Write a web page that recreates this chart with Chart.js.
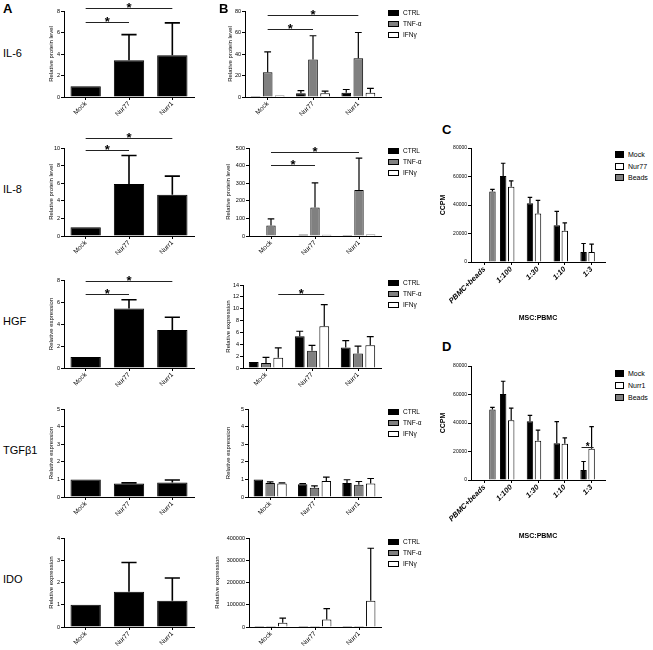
<!DOCTYPE html>
<html>
<head>
<meta charset="utf-8">
<script src="https://cdn.jsdelivr.net/npm/chart.js@4.4.1/dist/chart.umd.min.js"></script>
<style>
  body { margin: 0; background: #fff; width: 653px; height: 650px; position: relative; overflow: hidden;
         font-family: 'Liberation Sans', Arial, sans-serif; color: #000; }
  canvas { position: absolute; }
  .lbl { position: absolute; white-space: nowrap; color: #000 !important; line-height: 1; }
  .sw { position: absolute; box-sizing: border-box; border: 1px solid #000; }
</style>
</head>
<body>
<script>
'use strict';

/* Nur77 / Nurr1 figure: panels A and B (cytokines), C and D (MSC:PBMC proliferation). */

// ---- data ----
const groups = ['Mock', 'Nur77', 'Nurr1'];
const treatments = ['CTRL', 'TNF-α', 'IFNγ'];
const ratios = ['PBMC+beads', '1:100', '1:30', '1:10', '1:3'];
const rows = ['IL-6', 'IL-8', 'HGF', 'TGFβ1', 'IDO'];

// panel A: mean and upper SD
const il6A = [1, 3.42, 3.88];
const il6AErr = [null, 5.8, 6.9];
const il8A = [1, 5.9, 4.68];
const il8AErr = [null, 9.15, 6.8];
const hgfA = [1, 5.42, 3.45];
const hgfAErr = [null, 6.2, 4.62];
const tgfA = [1, 0.76, 0.83];
const tgfAErr = [null, 0.8, 0.97];
const idoA = [1, 1.58, 1.18];
const idoAErr = [null, 2.9, 2.2];

// panel B: CTRL / TNF-a / IFNg per group
const il6Bctrl = [1, 3.5, 4], il6BctrlErr = [null, 6, 7];
const il6Btnf = [23, 35, 36], il6BtnfErr = [42, 57, 60];
const il6Bifn = [1.5, 3.5, 4], il6BifnErr = [null, 5.5, 8];
const il8Bctrl = [3, 8, 6], il8BctrlErr = [null, null, null];
const il8Btnf = [60, 162, 262], il8BtnfErr = [97, 302, 443];
const il8Bifn = [3, 7, 8], il8BifnErr = [null, null, null];
const hgfBctrl = [1, 5.37, 3.45], hgfBctrlErr = [null, 6.2, 4.63];
const hgfBtnf = [0.85, 2.9, 2.43], hgfBtnfErr = [1.8, 3.8, 3.7];
const hgfBifn = [1.75, 7.05, 3.84], hgfBifnErr = [3.4, 10.7, 5.3];
const tgfBctrl = [1, 0.73, 0.8], tgfBctrlErr = [null, 0.76, 0.98];
const tgfBtnf = [0.8, 0.53, 0.7], tgfBtnfErr = [0.86, 0.63, 0.88];
const tgfBifn = [0.76, 0.91, 0.76], tgfBifnErr = [0.8, 1.13, 1.05];
const idoBctrl = [1, 1, 1], idoBctrlErr = [null, null, null];
const idoBtnf = [2, 2, 2], idoBtnfErr = [null, null, null];
const idoBifn = [19000, 34000, 118000], idoBifnErr = [40000, 83000, 354000];

// panels C / D: CCPM
const beads = [49500, null, null, null, null];
const beadsErr = [51000, null, null, null, null];
const mockC = [null, 60300, 41200, 25800, 7000];
const mockCErr = [null, 69300, 45400, 35500, 13000];
const nur77C = [null, 52800, 34100, 22000, 7000];
const nur77CErr = [null, 57000, 43300, 27500, 12500];
const mockD = [null, 60300, 41200, 25800, 7000];
const mockDErr = [null, 69300, 45400, 41000, 13000];
const nurr1D = [null, 42000, 27500, 25500, 22000];
const nurr1DErr = [null, 50500, 35000, 29500, 37500];

// significance bars: [groupA, datasetA, groupB, datasetB, height]
const sigIl6A = [[0, 0, 1, 0, 7.0], [0, 0, 2, 0, 8.24]];
const sigIl8A = [[0, 0, 1, 0, 9.73], [0, 0, 2, 0, 11.14]];
const sigHgfA = [[0, 0, 1, 0, 6.7], [0, 0, 2, 0, 7.9]];
const sigIl6B = [[0, 1, 1, 1, 63], [0, 1, 2, 1, 76]];
const sigIl8B = [[0, 1, 1, 1, 404], [0, 1, 2, 1, 478]];
const sigHgfB = [[0, 2, 1, 2, 12.5]];
const sigD = [[4, 0, 4, 1, 23000]];

// ---- helpers ----
const FONT = "'Liberation Sans', Arial, sans-serif";
Chart.defaults.color = '#000';
Chart.defaults.font.family = FONT;

const BLACK = '#000', GREY = '#808080', WHITE = '#fff';

function addText(str, x, base, size, weight) {
  const d = document.createElement('div');
  d.className = 'lbl';
  d.textContent = str;
  d.style.left = x + 'px';
  d.style.top = (base - 0.8465 * size) + 'px';
  d.style.fontSize = size + 'px';
  d.style.fontWeight = weight || 'normal';
  d.style.color = '#000';
  document.body.appendChild(d);
}

function addLegend(names, colors, x, ys, sw, sh, size) {
  names.forEach((n, i) => {
    const s = document.createElement('div');
    s.className = 'sw';
    s.style.cssText = `left:${x}px;top:${ys[i] - sh / 2}px;width:${sw}px;height:${sh}px;background:${colors[i]}`;
    document.body.appendChild(s);
    addText(n, x + sw + 4, ys[i] + 0.36 * size, size);
  });
}

function errorBars(o) {
  return {
    id: 'errorBars',
    afterDatasetsDraw(chart) {
      const ctx = chart.ctx, y = chart.scales.y;
      ctx.save();
      ctx.strokeStyle = '#000';
      ctx.lineWidth = o.lw;
      chart.data.datasets.forEach((ds, di) => {
        if (!ds.errors) return;
        chart.getDatasetMeta(di).data.forEach((bar, i) => {
          const e = ds.errors[i];
          if (e == null || ds.data[i] == null) return;
          const top = y.getPixelForValue(e);
          const half = bar.width * o.cap / 2;
          ctx.beginPath();
          ctx.moveTo(bar.x, bar.y);
          ctx.lineTo(bar.x, top);
          ctx.moveTo(bar.x - half, top);
          ctx.lineTo(bar.x + half, top);
          ctx.stroke();
        });
      });
      ctx.restore();
    }
  };
}

function sigBars(o) {
  return {
    id: 'sigBars',
    afterDatasetsDraw(chart) {
      if (!o.sig) return;
      const ctx = chart.ctx, y = chart.scales.y;
      ctx.save();
      ctx.strokeStyle = '#222';
      ctx.fillStyle = '#000';
      ctx.lineWidth = 1;
      ctx.font = `bold ${o.star || 13}px ${FONT}`;
      ctx.textAlign = 'center';
      ctx.textBaseline = 'alphabetic';
      o.sig.forEach((l) => {
        const a = chart.getDatasetMeta(l[1]).data[l[0]];
        const b = chart.getDatasetMeta(l[3]).data[l[2]];
        const py = Math.round(y.getPixelForValue(l[4])) + 0.5;
        const ext = o.ext || 0;
        ctx.beginPath();
        ctx.moveTo(a.x - ext, py);
        ctx.lineTo(b.x + ext, py);
        ctx.stroke();
        ctx.fillText('*', (a.x + b.x) / 2, py + (o.starDy || 3.5));
      });
      ctx.restore();
    }
  };
}

function barChart(o) {
  const cv = document.createElement('canvas');
  const left = o.x0 - o.yW, top = o.top - o.padT;
  cv.width = o.x1 - left + 3;
  cv.height = o.bottom + o.xH - top;
  cv.style.left = left + 'px';
  cv.style.top = top + 'px';
  document.body.appendChild(cv);
  const tickGrid = { display: true, drawOnChartArea: false, drawTicks: true, tickLength: 3, color: '#000', lineWidth: 1 };
  return new Chart(cv, {
    type: 'bar',
    data: {
      labels: o.labels,
      datasets: o.sets.map((s) => ({
        label: s.name,
        data: s.data,
        errors: s.err,
        backgroundColor: s.color,
        borderColor: '#000',
        borderWidth: 1,
        barPercentage: o.bp,
        categoryPercentage: o.cp,
      })),
    },
    options: {
      responsive: false,
      animation: false,
      devicePixelRatio: 1,
      events: [],
      layout: { padding: { top: o.padT, right: 3, left: 0, bottom: 0 } },
      plugins: { legend: { display: false }, tooltip: { enabled: false } },
      scales: {
        x: {
          grid: Object.assign({}, tickGrid, { offset: false }),
          border: { display: true, color: '#000', width: 1 },
          ticks: { color: '#000', minRotation: 45, maxRotation: 45, autoSkip: false, padding: 0, font: o.xFont },
          title: o.xTitle
            ? { display: true, text: o.xTitle, color: '#000', padding: 0, font: { family: FONT, size: 7, weight: 'bold' } }
            : { display: false },
          afterFit: (s) => { s.height = o.xH; },
        },
        y: {
          min: 0,
          max: o.yMax,
          grid: tickGrid,
          border: { display: true, color: '#000', width: 1 },
          ticks: { color: '#000', stepSize: o.yStep, padding: 1, font: o.yFont, callback: (v) => String(v) },
          title: { display: true, text: o.yTitle, color: '#000', padding: 0, font: o.yTitleFont },
          afterFit: (s) => { s.width = o.yW; },
        },
      },
    },
    plugins: [errorBars(o), sigBars(o)],
  });
}

// ---- panel A ----
const colA = {
  x0: 64, x1: 194, yW: 16, xH: 26, bp: 0.7, cp: 1, cap: 0.5, lw: 1.6, labels: groups,
  yFont: { size: 5.5 }, yTitleFont: { size: 6 }, xFont: { size: 6.5 },
};
const one = (d, e) => [{ name: 'A', data: d, err: e, color: BLACK }];

barChart(Object.assign({}, colA, { top: 11, bottom: 97, padT: 11, yMax: 8, yStep: 2,
  yTitle: 'Relative protein level', sets: one(il6A, il6AErr), sig: sigIl6A }));
barChart(Object.assign({}, colA, { top: 148, bottom: 236, padT: 20, yMax: 10, yStep: 2,
  yTitle: 'Relative protein level', sets: one(il8A, il8AErr), sig: sigIl8A }));
barChart(Object.assign({}, colA, { top: 280, bottom: 368, padT: 20, yMax: 8, yStep: 2,
  yTitle: 'Relative expression', sets: one(hgfA, hgfAErr), sig: sigHgfA }));
barChart(Object.assign({}, colA, { top: 409, bottom: 497, padT: 10, yMax: 5, yStep: 1,
  yTitle: 'Relative expression', sets: one(tgfA, tgfAErr) }));
barChart(Object.assign({}, colA, { top: 538, bottom: 627, padT: 10, yMax: 4, yStep: 1,
  yTitle: 'Relative expression', sets: one(idoA, idoAErr) }));

// ---- panel B ----
const colB = {
  x1: 381, xH: 26, bp: 0.8, cp: 0.8, cap: 0.7, lw: 1.2, labels: groups,
  yFont: { size: 5.5 }, yTitleFont: { size: 6 }, xFont: { size: 6.5 },
};
const trio = (c, ce, t, te, f, fe) => [
  { name: treatments[0], data: c, err: ce, color: BLACK },
  { name: treatments[1], data: t, err: te, color: GREY },
  { name: treatments[2], data: f, err: fe, color: WHITE },
];

barChart(Object.assign({}, colB, { x0: 245, yW: 18, top: 11, bottom: 97, padT: 11, yMax: 80, yStep: 20,
  yTitle: 'Relative protein level', sig: sigIl6B,
  sets: trio(il6Bctrl, il6BctrlErr, il6Btnf, il6BtnfErr, il6Bifn, il6BifnErr) }));
barChart(Object.assign({}, colB, { x0: 249, yW: 24, top: 148, bottom: 236, padT: 20, yMax: 500, yStep: 100,
  yTitle: 'Relative protein level', sig: sigIl8B,
  sets: trio(il8Bctrl, il8BctrlErr, il8Btnf, il8BtnfErr, il8Bifn, il8BifnErr) }));
barChart(Object.assign({}, colB, { x0: 243, yW: 18, top: 285, bottom: 368, padT: 20, yMax: 14, yStep: 2,
  yTitle: 'Relative expression', sig: sigHgfB,
  sets: trio(hgfBctrl, hgfBctrlErr, hgfBtnf, hgfBtnfErr, hgfBifn, hgfBifnErr) }));
barChart(Object.assign({}, colB, { x0: 248, yW: 23, top: 409, bottom: 497, padT: 10, yMax: 5, yStep: 1,
  yTitle: 'Relative expression',
  sets: trio(tgfBctrl, tgfBctrlErr, tgfBtnf, tgfBtnfErr, tgfBifn, tgfBifnErr) }));
barChart(Object.assign({}, colB, { x0: 249, yW: 35, top: 538, bottom: 627, padT: 10, yMax: 400000, yStep: 100000,
  yTitle: 'Relative expression',
  sets: trio(idoBctrl, idoBctrlErr, idoBtnf, idoBtnfErr, idoBifn, idoBifnErr) }));

// ---- panels C and D ----
const colC = {
  x0: 471, x1: 605, yW: 32, xH: 60, padT: 10, bp: 0.8, cp: 0.9, cap: 0.7, lw: 1.2, labels: ratios,
  yMax: 80000, yStep: 20000, yTitle: 'CCPM', xTitle: 'MSC:PBMC',
  yFont: { size: 5 }, yTitleFont: { size: 7, weight: 'bold' }, xFont: { size: 7.5, weight: 'bold', style: 'italic' },
};
barChart(Object.assign({}, colC, { top: 148, bottom: 262, sets: [
  { name: 'Mock', data: mockC, err: mockCErr, color: BLACK },
  { name: 'Nur77', data: nur77C, err: nur77CErr, color: WHITE },
  { name: 'Beads', data: beads, err: beadsErr, color: GREY },
] }));
barChart(Object.assign({}, colC, { top: 366, bottom: 480, sig: sigD, star: 10, starDy: 2.5, ext: 2, sets: [
  { name: 'Mock', data: mockD, err: mockDErr, color: BLACK },
  { name: 'Nurr1', data: nurr1D, err: nurr1DErr, color: WHITE },
  { name: 'Beads', data: beads, err: beadsErr, color: GREY },
] }));

// ---- text and legends ----
addText('A', 3, 13, 13, 'bold');
addText('B', 219, 13, 13, 'bold');
addText('C', 442, 134, 13, 'bold');
addText('D', 442, 351, 13, 'bold');

const rowBase = [57, 193, 325, 454, 583];
rows.forEach((r, i) => addText(r, 3, rowBase[i], 11));

const legendB = [[13, 24, 35], [151, 162, 173], [283, 294, 305], [412, 423, 434], [542, 553, 564]];
legendB.forEach((ys) => addLegend(treatments, [BLACK, GREY, WHITE], 388, ys, 11, 6, 6.5));
addLegend(['Mock', 'Nur77', 'Beads'], [BLACK, WHITE, GREY], 615, [154, 166, 177], 9, 7, 7);
addLegend(['Mock', 'Nurr1', 'Beads'], [BLACK, WHITE, GREY], 615, [373, 385, 397], 9, 7, 7);
</script>
</body>
</html>
